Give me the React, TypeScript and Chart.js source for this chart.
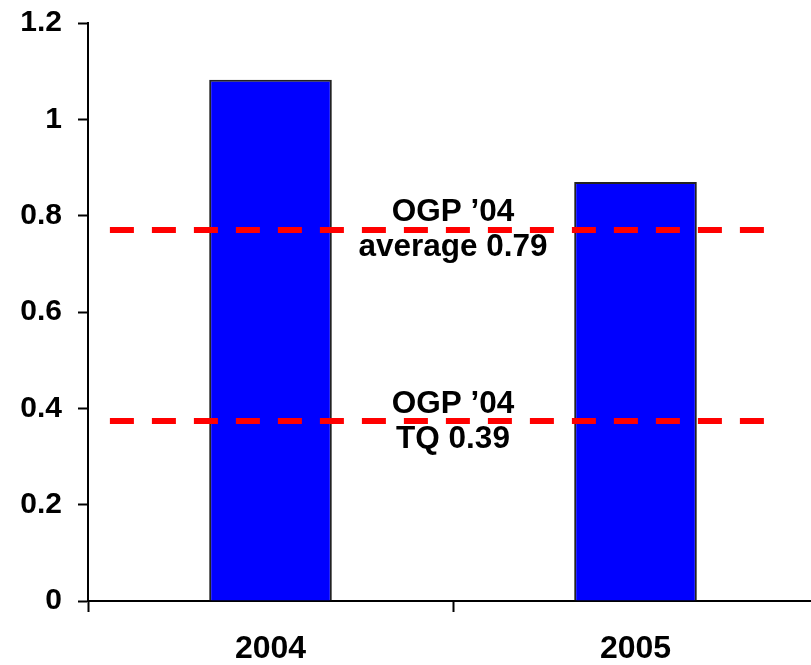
import React, { useEffect, useRef } from "react";
import { Chart, registerables } from "chart.js";

Chart.register(...registerables);

const categories = ["2004", "2005"];
const barValues = [1.082, 0.87];
const refLineValues = [0.771, 0.373];
const refLineTop = ["OGP \u201904", "OGP \u201904"];
const refLineBottom = ["average 0.79", "TQ 0.39"];
// reference-line extent in category-index units (category centres at 0 and 1)
const refLineStart = -0.44;
const refLineEnd = 1.352;
const refLabelAt = 0.5;
const yTicks = [0, 0.2, 0.4, 0.6, 0.8, 1, 1.2];

const FONT = "'Liberation Sans', Arial, Helvetica, sans-serif";

const refPlugin = {
  id: "refLines",
  afterDatasetsDraw(chart: any) {
    const ctx = chart.ctx;
    const xs = chart.scales.x;
    const ys = chart.scales.y;
    ctx.save();
    ctx.strokeStyle = "#ff0000";
    ctx.lineWidth = 6;
    ctx.lineCap = "butt";
    ctx.setLineDash([24, 18]);
    refLineValues.forEach((v) => {
      const y = Math.round(ys.getPixelForValue(v));
      ctx.beginPath();
      ctx.moveTo(xs.getPixelForValue(refLineStart), y);
      ctx.lineTo(xs.getPixelForValue(refLineEnd), y);
      ctx.stroke();
    });
    ctx.setLineDash([]);
    ctx.fillStyle = "#000";
    ctx.font = `bold 31.5px ${FONT}`;
    ctx.textAlign = "center";
    ctx.textBaseline = "middle";
    refLineValues.forEach((v, i) => {
      const x = xs.getPixelForValue(refLabelAt);
      const y = ys.getPixelForValue(v);
      ctx.fillText(refLineTop[i], x, y - 17);
      ctx.fillText(refLineBottom[i], x, y + 18);
    });
    ctx.restore();
  },
};

export default function App() {
  const ref = useRef<HTMLCanvasElement | null>(null);
  useEffect(() => {
    if (!ref.current) return;
    const chart = new Chart(ref.current, {
      type: "bar",
      data: {
        labels: categories,
        datasets: [
          {
            data: barValues,
            backgroundColor: "#0000ff",
            borderColor: "#222222",
            borderWidth: 2,
            categoryPercentage: 1,
            barPercentage: 0.336,
          } as any,
        ],
      },
      options: {
        animation: false,
        responsive: false,
        maintainAspectRatio: false,
        layout: { padding: { left: 0, right: 22, top: 0, bottom: 0 } },
        plugins: {
          legend: { display: false },
          tooltip: { enabled: false },
        },
        scales: {
          x: {
            type: "category",
            offset: true,
            grid: {
              offset: true,
              drawOnChartArea: false,
              drawTicks: true,
              tickLength: 11,
              tickWidth: 2,
              tickColor: "#000",
            },
            border: { display: true, color: "#000", width: 2 },
            ticks: {
              color: "#000",
              font: { family: FONT, size: 32, weight: "bold" },
              padding: 18,
            },
            afterFit: (s: any) => {
              s.height = 64;
            },
          },
          y: {
            type: "linear",
            min: 0,
            max: 1.2,
            afterBuildTicks: (s: any) => {
              s.ticks = yTicks.map((v) => ({ value: v }));
            },
            grid: {
              drawOnChartArea: false,
              drawTicks: true,
              tickLength: 10,
              tickWidth: 2,
              tickColor: "#000",
            },
            border: { display: true, color: "#000", width: 2 },
            ticks: {
              color: "#000",
              font: { family: FONT, size: 30, weight: "bold" },
              padding: 16,
              callback: (v: any) => String(Math.round(Number(v) * 10) / 10),
            },
            afterFit: (s: any) => {
              s.width = 88;
            },
          },
        },
      },
      plugins: [refPlugin],
    });
    return () => chart.destroy();
  }, []);
  return (
    <div
      style={{
        position: "fixed",
        left: 0,
        top: 0,
        width: 811,
        height: 665,
        overflow: "hidden",
        background: "#fff",
      }}
    >
      <canvas
        ref={ref}
        width={840}
        height={676}
        style={{ position: "absolute", left: 0, top: -11, width: 840, height: 676 }}
      />
    </div>
  );
}
